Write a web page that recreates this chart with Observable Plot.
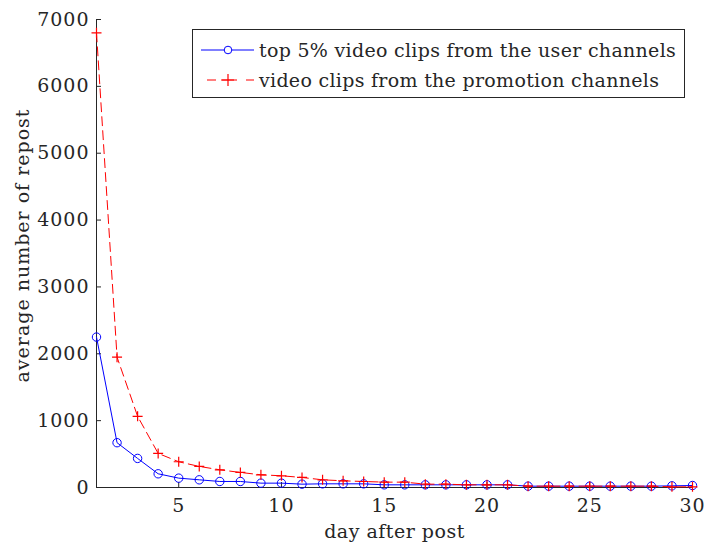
<!DOCTYPE html>
<html>
<head>
<meta charset="utf-8">
<script src="https://cdn.jsdelivr.net/npm/d3@7"></script>
<script src="https://cdn.jsdelivr.net/npm/@observablehq/plot@0.6"></script>
<style>
  body { margin: 0; background: #fff; }
  #chart { width: 706px; height: 550px; }
  #chart svg g[aria-label="x-axis tick label"] text,
  #chart svg g[aria-label="y-axis tick label"] text { letter-spacing: 1px; }
</style>
</head>
<body>
<div id="chart"></div>
<script>
// Days after the clip was posted
const days = [1, 2, 3, 4, 5, 6, 7, 8, 9, 10, 11, 12, 13, 14, 15,
              16, 17, 18, 19, 20, 21, 22, 23, 24, 25, 26, 27, 28, 29, 30];

// Average number of reposts per day: top 5% clips from user channels
const userRepost = [2250, 670, 435, 205, 140, 115, 90, 90, 65, 65, 50, 55, 55, 55, 40,
                    40, 40, 40, 40, 40, 40, 20, 20, 20, 20, 20, 20, 20, 25, 30];

// Average number of reposts per day: clips from promotion channels
const promoRepost = [6800, 1950, 1065, 510, 385, 315, 265, 225, 190, 175, 150, 115, 100, 90, 80,
                     80, 50, 50, 40, 40, 40, 20, 20, 20, 20, 20, 20, 20, 10, 10];

const xTicks = [5, 10, 15, 20, 25, 30];
const yTicks = [0, 1000, 2000, 3000, 4000, 5000, 6000, 7000];

const seriesNames = [
  "top 5% video clips from the user channels",
  "video clips from the promotion channels"
];

const rows = days.map((d, i) => ({day: d, user: userRepost[i], promo: promoRepost[i]}));

const BLUE = "#0000ff";
const RED = "#ff0000";
const INK = "#262626";
const FONT = "'DejaVu Serif', serif";

// A stroked "+" marker
const plusSymbol = {
  draw(context, size) {
    const r = Math.sqrt(size / Math.PI);
    context.moveTo(-r, 0); context.lineTo(r, 0);
    context.moveTo(0, -r); context.lineTo(0, r);
  }
};

const chart = Plot.plot({
  width: 706,
  height: 550,
  marginLeft: 96,
  marginRight: 14,
  marginTop: 19,
  marginBottom: 63,
  style: {fontFamily: FONT, fontSize: "19px", color: INK, background: "#fff"},
  x: {domain: [1, 30]},
  y: {domain: [0, 7000]},
  marks: [
    Plot.axisX({ticks: xTicks, tickSize: -5, tickPadding: 16, tickFormat: d => String(d),
                label: null, stroke: INK}),
    Plot.axisY({ticks: yTicks, tickSize: -5, tickPadding: 12, tickFormat: d => String(d),
                label: null, stroke: INK}),
    Plot.ruleX([1], {stroke: INK, strokeWidth: 1}),
    Plot.ruleY([0], {stroke: INK, strokeWidth: 1}),
    Plot.line(rows, {x: "day", y: "user", stroke: BLUE, strokeWidth: 1}),
    Plot.dot(rows, {x: "day", y: "user", stroke: BLUE, fill: "none", r: 4.2, strokeWidth: 1}),
    Plot.line(rows, {x: "day", y: "promo", stroke: RED, strokeWidth: 1, strokeDasharray: "9,5"}),
    Plot.dot(rows, {x: "day", y: "promo", stroke: RED, symbol: plusSymbol, r: 5, strokeWidth: 1.2}),
    Plot.text(["day after post"], {frameAnchor: "bottom", dy: 50, fontSize: 19, fill: INK,
                                   className: "xlab"}),
    Plot.text(["average number of repost"], {frameAnchor: "left", textAnchor: "middle", dx: -74, dy: -8,
                                             rotate: -90, fontSize: 19, fill: INK, className: "ylab"})
  ]
});

d3.select(chart).selectAll(".xlab text").style("letter-spacing", "0.5px");
d3.select(chart).selectAll(".ylab text").style("letter-spacing", "1px");

// Legend box in the upper right of the axes
const svg = d3.select(chart);
const lg = svg.append("g").attr("font-family", FONT).attr("font-size", 19).attr("fill", INK)
  .attr("text-anchor", "start");
lg.append("rect").attr("x", 192.5).attr("y", 29.5).attr("width", 492).attr("height", 68)
  .attr("fill", "#fff").attr("stroke", INK).attr("stroke-width", 1);
const rowY = [50, 80];
// user series sample
lg.append("line").attr("x1", 201).attr("x2", 254).attr("y1", rowY[0]).attr("y2", rowY[0])
  .attr("stroke", BLUE);
lg.append("circle").attr("cx", 228).attr("cy", rowY[0]).attr("r", 3.8)
  .attr("fill", "white").attr("stroke", BLUE);
// promotion series sample
lg.append("line").attr("x1", 207).attr("x2", 254).attr("y1", rowY[1]).attr("y2", rowY[1])
  .attr("stroke", RED).attr("stroke-dasharray", "9,5,16,9,8");
lg.append("path").attr("d", `M222,${rowY[1]}h12M228,${rowY[1] - 6}v12`)
  .attr("stroke", RED).attr("stroke-width", 1.2);
seriesNames.forEach((name, i) => {
  lg.append("text").attr("x", 259).attr("y", rowY[i]).attr("dy", "0.35em")
    .style("letter-spacing", "0.3px").text(name);
});

document.getElementById("chart").appendChild(chart);
</script>
</body>
</html>
